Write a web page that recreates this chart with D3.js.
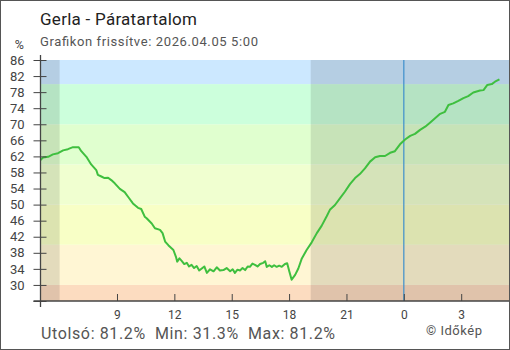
<!DOCTYPE html>
<html>
<head>
<meta charset="utf-8">
<script src="https://cdn.jsdelivr.net/npm/d3@7"></script>
<style>
  html, body { margin: 0; padding: 0; background: #fff; }
  svg { display: block; font-family: Roboto, "Liberation Sans", sans-serif; }
</style>
</head>
<body>
<svg id="chart" width="510" height="350"></svg>
<script>
// Relative humidity readings, minutes after 05:00 on 2026-04-04
const minutesFrom0500 = [
  0, 8, 24, 39, 55, 71, 86, 102, 120, 128, 144, 159, 175, 180, 191, 201, 212, 222, 233, 249,
  264, 277, 290, 306, 316, 327, 333, 349, 359, 375, 383, 391, 401, 417, 425, 429, 436, 443, 451, 459,
  466, 474, 482, 490, 498, 506, 514, 522, 532, 543, 553, 563, 574, 584, 595, 603, 610, 618, 626, 634,
  642, 650, 657, 665, 673, 681, 689, 699, 705, 710, 718, 726, 733, 741, 749, 757, 767, 774, 781,
  788, 799, 809, 820, 835, 851, 867, 882, 898, 908, 924, 940, 955, 971, 987, 1002, 1018, 1034, 1050, 1065,
  1081, 1097, 1112, 1128, 1144, 1160, 1175, 1191, 1207, 1222, 1238, 1254, 1269, 1280, 1295, 1311, 1327, 1342, 1358, 1379,
  1390, 1402, 1416, 1426, 1440
];
const humidity = [
  61.1, 61.7, 61.9, 62.5, 62.8, 63.5, 63.8, 64.3, 64.3, 63.3, 61.9, 60.0, 58.6, 57.4, 57.0, 56.6, 56.7, 56.1, 55.3, 53.9,
  53.1, 51.7, 50.3, 49.2, 48.9, 47.0, 46.6, 45.3, 44.1, 43.7, 42.9, 40.8, 39.9, 38.7, 37.0, 35.8, 36.6, 36.0, 35.2, 35.5,
  34.6, 35.0, 34.2, 34.7, 33.6, 34.1, 34.6, 33.0, 33.9, 33.4, 34.4, 33.6, 33.7, 34.2, 33.4, 33.9, 33.0, 33.8, 33.6, 34.2,
  33.7, 34.6, 34.5, 35.3, 35.0, 34.6, 35.2, 35.5, 35.9, 34.5, 34.9, 34.5, 34.9, 34.5, 34.8, 34.5, 35.2, 35.4, 33.3,
  31.3, 32.5, 34.1, 36.6, 38.7, 40.6, 42.9, 44.7, 47.1, 48.7, 49.9, 51.6, 53.2, 55.1, 56.6, 57.6, 59.0, 60.7, 61.8, 62.1,
  62.1, 62.9, 63.3, 65.0, 66.2, 67.1, 67.6, 68.6, 69.4, 70.4, 71.5, 72.6, 73.1, 74.8, 75.2, 75.8, 76.5, 77.0, 77.9, 78.4,
  78.5, 79.8, 80.0, 80.6, 81.2
];

// Hour-of-day ticks (hours counted from midnight of the first day)
const hourTicks = [9, 12, 15, 18, 21, 24, 27];
const hourLabels = ["9", "12", "15", "18", "21", "0", "3"];
const humidityTicks = [26, 30, 34, 38, 42, 46, 50, 54, 58, 62, 66, 70, 74, 78, 82, 86];

// Humidity bands behind the plot
const bandEdges = [26, 30, 40, 50, 60, 70, 80, 86];
const bandFills = ["#fcdcc0", "#fff6d4", "#f8ffc6", "#f0ffd0", "#e0ffcf", "#ccffdc", "#cce8ff"];

// Dark hours (sunset/sunrise) and the midnight marker
const nightSpans = [[5, 6.0], [19.13, 29.5]];
const midnightHour = 24;

const titleText = "Gerla - Páratartalom";
const subtitleText = "Grafikon frissítve: 2026.04.05 5:00";
const lastValue = 81.2, minValue = 31.3, maxValue = 81.2;

const svg = d3.select("#chart");
const W = 510, H = 350;
const plot = { left: 40.5, right: 509, top: 60, bottom: 301 };

const x = d3.scaleLinear().domain([5, 29.5]).range([plot.left, plot.right]);
const y = d3.scaleLinear().domain([26, 86]).range([plot.bottom, plot.top]);

const ink = "#444";

// Bands
svg.append("g").selectAll("rect")
  .data(bandFills)
  .join("rect")
  .attr("x", plot.left)
  .attr("width", plot.right - plot.left)
  .attr("y", (d, i) => y(bandEdges[i + 1]))
  .attr("height", (d, i) => y(bandEdges[i]) - y(bandEdges[i + 1]))
  .attr("fill", d => d);

// Night shading
svg.append("g").selectAll("rect")
  .data(nightSpans)
  .join("rect")
  .attr("x", d => x(d[0]))
  .attr("width", d => x(d[1]) - x(d[0]))
  .attr("y", plot.top)
  .attr("height", plot.bottom - plot.top)
  .attr("fill", "#000")
  .attr("fill-opacity", 0.11);

// Midnight line
svg.append("line")
  .attr("x1", x(midnightHour)).attr("x2", x(midnightHour))
  .attr("y1", plot.top).attr("y2", plot.bottom)
  .attr("stroke", "#3d8fcc").attr("stroke-width", 1.2);

// Humidity line
svg.append("defs").append("clipPath").attr("id", "plotClip")
  .append("rect")
  .attr("x", plot.left).attr("y", plot.top)
  .attr("width", plot.right - plot.left).attr("height", plot.bottom - plot.top);

const points = minutesFrom0500.map((m, i) => ({ h: 5 + m / 60, v: humidity[i] }));
svg.append("path")
  .datum(points)
  .attr("clip-path", "url(#plotClip)")
  .attr("fill", "none")
  .attr("stroke", "#3fbf3f")
  .attr("stroke-width", 2)
  .attr("stroke-linejoin", "round")
  .attr("d", d3.line().x(d => x(d.h)).y(d => y(d.v)));

// Y axis
const yAxis = svg.append("g")
  .attr("transform", `translate(${plot.left},0)`)
  .call(d3.axisLeft(y).tickValues(humidityTicks)
    .tickFormat(d => d === 26 ? "" : d)
    .tickSize(7).tickPadding(9));
yAxis.select(".domain").remove();
yAxis.selectAll(".tick line").attr("x1", 6).attr("x2", -7).attr("stroke", ink);
yAxis.selectAll(".tick text")
  .attr("fill", ink).attr("font-size", 13)
  .attr("font-family", "Roboto, sans-serif");

// X axis
const xAxis = svg.append("g")
  .attr("transform", `translate(0,${plot.bottom})`)
  .call(d3.axisBottom(x).tickValues(hourTicks)
    .tickFormat((d, i) => hourLabels[i])
    .tickSize(-7).tickPadding(9));
xAxis.select(".domain").remove();
xAxis.selectAll(".tick line").attr("stroke", ink);
xAxis.selectAll(".tick text")
  .attr("fill", ink).attr("font-size", 12)
  .attr("font-family", "Roboto, sans-serif");

// Axis lines
svg.append("line")
  .attr("x1", plot.left).attr("x2", plot.left)
  .attr("y1", plot.top - 5).attr("y2", plot.bottom + 6)
  .attr("stroke", ink).attr("stroke-width", 1.3);
svg.append("line")
  .attr("x1", plot.left - 7).attr("x2", plot.right)
  .attr("y1", plot.bottom).attr("y2", plot.bottom)
  .attr("stroke", ink).attr("stroke-width", 1.3);

// Unit label
svg.append("text")
  .attr("x", 24).attr("y", 49)
  .attr("text-anchor", "end")
  .attr("font-size", 12.5).attr("fill", ink)
  .text("%");

// Titles
svg.append("text")
  .attr("x", 40).attr("y", 25)
  .attr("font-size", 17).attr("fill", "#222")
  .attr("textLength", 157).attr("lengthAdjust", "spacing")
  .text(titleText);
svg.append("text")
  .attr("x", 40).attr("y", 46)
  .attr("font-size", 13).attr("fill", "#555")
  .attr("textLength", 218).attr("lengthAdjust", "spacing")
  .text(subtitleText);

// Summary
svg.append("text")
  .attr("x", 41).attr("y", 339)
  .attr("font-size", 16).attr("fill", "#555")
  .attr("xml:space", "preserve")
  .attr("textLength", 294).attr("lengthAdjust", "spacing")
  .text(`Utolsó: ${lastValue.toFixed(1)}%  Min: ${minValue.toFixed(1)}%  Max: ${maxValue.toFixed(1)}%`);
svg.append("text")
  .attr("x", 426).attr("y", 335)
  .attr("font-size", 13).attr("fill", "#555")
  .attr("textLength", 56).attr("lengthAdjust", "spacing")
  .text("© Időkép");

// Frame
svg.append("rect")
  .attr("x", 0.5).attr("y", 0.5)
  .attr("width", W - 1).attr("height", H - 1)
  .attr("fill", "none").attr("stroke", "#555");
</script>
</body>
</html>
